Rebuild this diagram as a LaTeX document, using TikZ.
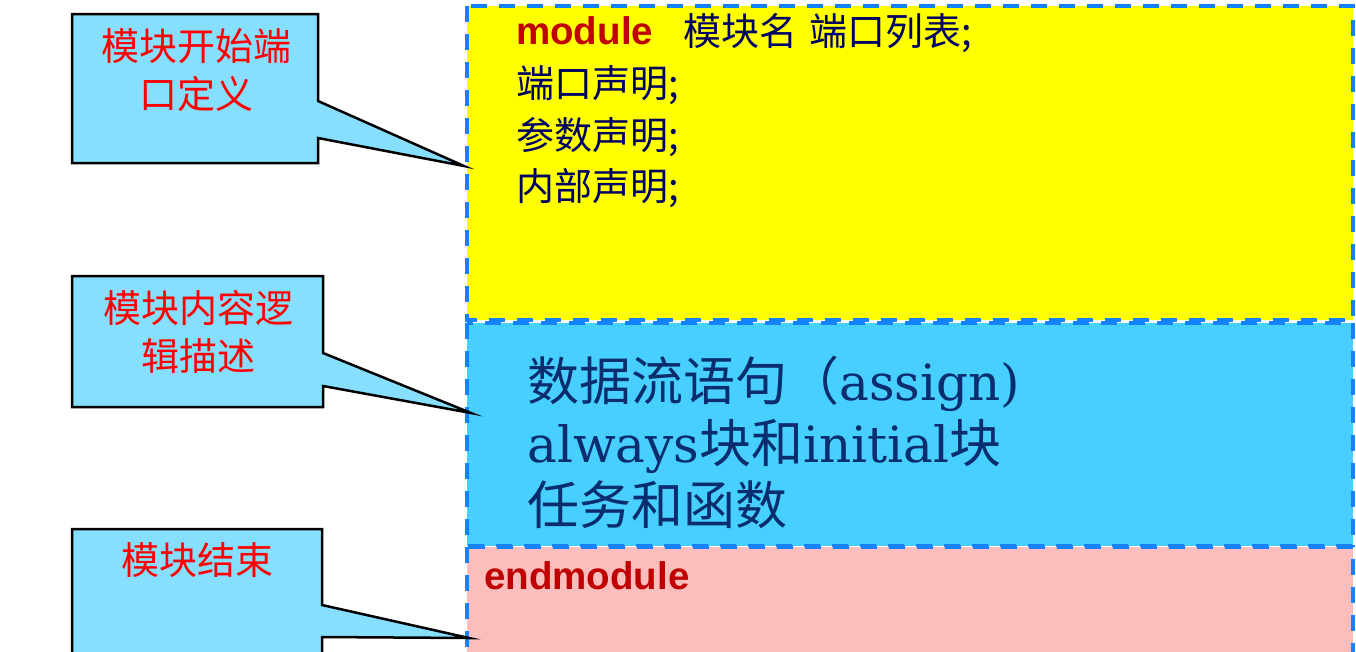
\documentclass[tikz,border=0pt]{standalone}
\usepackage{fontspec}
\newfontfamily\cjk{Noto Sans CJK SC}
\newfontfamily\sansf{Liberation Sans}
\newfontfamily\latserif{DejaVu Serif}
\definecolor{dashblue}{RGB}{20,130,255}
\definecolor{yfill}{RGB}{255,255,0}
\definecolor{bfill}{RGB}{71,207,255}
\definecolor{pfill}{RGB}{252,189,189}
\definecolor{cfill}{RGB}{134,223,255}
\definecolor{dred}{RGB}{192,0,0}
\definecolor{ynavy}{RGB}{0,0,100}
\definecolor{bnavy}{RGB}{10,45,110}
\newcommand{\lat}[1]{{\latserif\fontsize{50}{50}\selectfont #1}}
\tikzset{
  secbox/.style={draw=dashblue, line width=3.5pt, dash pattern=on 16pt off 12pt},
  callout/.style={draw=black, fill=cfill, line width=2.5pt, line join=miter},
  ctext/.style={inner sep=0pt, anchor=base, text=red, font=\cjk\fontsize{38}{38}\selectfont},
  ytext/.style={inner sep=0pt, anchor=base west, text=ynavy, font=\cjk\fontsize{38}{38}\selectfont},
  btext/.style={inner sep=0pt, anchor=base west, text=bnavy, font=\cjk\fontsize{52}{52}\selectfont},
  kwtext/.style={inner sep=0pt, anchor=base west, text=dred, font=\sansf\bfseries\fontsize{38.5}{38.5}\selectfont}
}
\begin{document}
\begin{tikzpicture}[x=1pt,y=-1pt]
\clip (0,0) rectangle (1356,651);
\fill[white] (0,0) rectangle (1356,651);
% section boxes
\draw[secbox, fill=yfill] (467,6) rectangle (1353,320);
\draw[secbox, fill=bfill] (467,323) rectangle (1353,546);
\draw[secbox, fill=pfill] (467,547) rectangle (1353,720);
\coordinate (tip1) at (464,166);
\coordinate (tip2) at (471,413);
\coordinate (tip3) at (469,638);
% callouts
\draw[callout] (72,14) -- (318,14) -- (318,101) -- (tip1) -- (318,138) -- (318,163) -- (72,163) -- cycle;
\draw[callout] (72,276) -- (323,276) -- (323,353) -- (tip2) -- (323,386) -- (323,407) -- (72,407) -- cycle;
\draw[callout] (72,529) -- (322,529) -- (322,605) -- (tip3) -- (322,637) -- (322,700) -- (72,700) -- cycle;
\node[ctext] (c1a) at (196,60) {模块开始端};
\node[ctext] (c1b) at (196,108) {口定义};
\node[ctext] (c2a) at (198,322) {模块内容逻};
\node[ctext] (c2b) at (198,370) {辑描述};
\node[ctext] (c3a) at (197,574) {模块结束};
% yellow text
\node[kwtext] (kw1) at (516,44) {module};
\node[ytext] (y1) at (683,45) {模块名\hspace{12pt}端口列表;};
\node[ytext] (y2) at (516,97) {端口声明;};
\node[ytext] (y3) at (516,149) {参数声明;};
\node[ytext] (y4) at (516,200) {内部声明;};
% blue text
\node[btext] (b1) at (527,400) {数据流语句（\lat{assign)}};
\node[btext] (b2) at (527,462) {\lat{always}块和\lat{initial}块};
\node[btext] (b3) at (527,524) {任务和函数};
% pink text
\node[kwtext] (kw2) at (484,589) {endmodule};
\end{tikzpicture}
\end{document}
